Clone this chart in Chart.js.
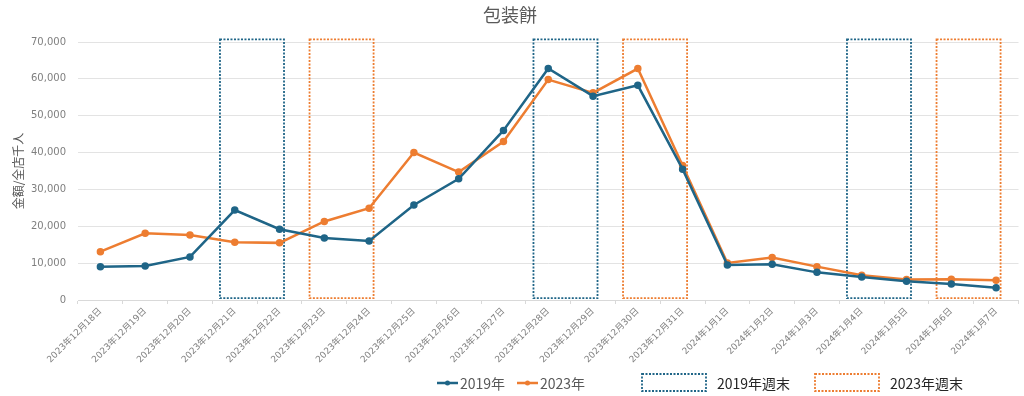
<!DOCTYPE html>
<html>
<head>
<meta charset="utf-8">
<script src="https://cdn.jsdelivr.net/npm/chart.js@4.4.1/dist/chart.umd.min.js"></script>
<style>
  html, body { margin: 0; padding: 0; background: #fff; }
  #wrap { width: 1024px; height: 396px; position: relative; }
</style>
</head>
<body>
<div id="wrap"><canvas id="chart"></canvas></div>
<script>
const labels = [
  '2023年12月18日', '2023年12月19日', '2023年12月20日', '2023年12月21日', '2023年12月22日',
  '2023年12月23日', '2023年12月24日', '2023年12月25日', '2023年12月26日', '2023年12月27日',
  '2023年12月28日', '2023年12月29日', '2023年12月30日', '2023年12月31日', '2024年1月1日',
  '2024年1月2日', '2024年1月3日', '2024年1月4日', '2024年1月5日', '2024年1月6日', '2024年1月7日'
];
const values2019 = [
  9000, 9250, 11700, 24400, 19200, 16800, 16000, 25800, 32900, 46000,
  62800, 55300, 58250, 35500, 9500, 9700, 7500, 6250, 5100, 4350, 3350
];
const values2023 = [
  13100, 18100, 17650, 15700, 15500, 21300, 24900, 40000, 34700, 43000,
  59800, 56200, 62800, 36500, 10050, 11500, 9050, 6700, 5530, 5600, 5350
];
// 週末の範囲（開始日ラベル、2日間）
const weekends2019 = ['2023年12月21日', '2023年12月28日', '2024年1月4日'];
const weekends2023 = ['2023年12月23日', '2023年12月30日', '2024年1月6日'];
const boxTop = 70700;
const boxBottom = 500;

const blue = '#1f6587';
const orange = '#ed7d31';
const grey = '#7f7f7f';
const font = "'DejaVu Sans', 'Noto Sans CJK JP', sans-serif";
const cjk = "'Noto Sans CJK JP', sans-serif";

const weekendPlugin = {
  id: 'weekendBoxes',
  beforeDatasetsDraw(chart) {
    const { ctx, scales: { x, y } } = chart;
    const step = x.getPixelForValue(1) - x.getPixelForValue(0);
    const drawBoxes = (starts, color) => {
      ctx.save();
      ctx.strokeStyle = color;
      ctx.lineWidth = 1.8;
      ctx.setLineDash([2, 1.5]);
      starts.forEach((d) => {
        const i = labels.indexOf(d);
        const left = x.getPixelForValue(i) - step * 0.33;
        const right = x.getPixelForValue(i + 1) + step * 0.1;
        const top = y.getPixelForValue(boxTop);
        const bottom = y.getPixelForValue(boxBottom);
        ctx.strokeRect(left, top, right - left, bottom - top);
      });
      ctx.restore();
    };
    drawBoxes(weekends2019, blue);
    drawBoxes(weekends2023, orange);
  },
  afterDraw(chart) {
    const { ctx } = chart;
    ctx.save();
    // タイトル
    ctx.fillStyle = '#595959';
    ctx.font = '18px ' + cjk;
    ctx.textAlign = 'center';
    ctx.textBaseline = 'middle';
    ctx.fillText('包装餅', 510, 15);

    // 凡例
    const ly = 383;
    ctx.font = '14px ' + cjk;
    ctx.textAlign = 'left';
    const lineItem = (x0, color, text) => {
      ctx.strokeStyle = color;
      ctx.lineWidth = 2.5;
      ctx.setLineDash([]);
      ctx.beginPath();
      ctx.moveTo(x0, ly);
      ctx.lineTo(x0 + 21, ly);
      ctx.stroke();
      ctx.fillStyle = color;
      ctx.beginPath();
      ctx.arc(x0 + 10.5, ly, 2.5, 0, Math.PI * 2);
      ctx.fill();
      ctx.fillStyle = '#595959';
      ctx.fillText(text, x0 + 23, ly + 1);
    };
    lineItem(437, blue, '2019年');
    lineItem(517, orange, '2023年');

    const boxItem = (x0, color, text) => {
      ctx.strokeStyle = color;
      ctx.lineWidth = 1.8;
      ctx.setLineDash([2, 1.5]);
      ctx.strokeRect(x0, ly - 9, 64, 17);
      ctx.fillStyle = '#262626';
      ctx.fillText(text, x0 + 75, ly + 1);
    };
    boxItem(642, blue, '2019年週末');
    boxItem(815, orange, '2023年週末');
    ctx.restore();
  }
};

new Chart(document.getElementById('chart'), {
  type: 'line',
  data: {
    labels: labels,
    datasets: [
      {
        label: '2019年',
        data: values2019,
        borderColor: blue,
        backgroundColor: blue,
        borderWidth: 2.5,
        pointRadius: 2.5,
        pointHoverRadius: 3,
        tension: 0
      },
      {
        label: '2023年',
        data: values2023,
        borderColor: orange,
        backgroundColor: orange,
        borderWidth: 2.5,
        pointRadius: 2.5,
        pointHoverRadius: 3,
        tension: 0
      }
    ]
  },
  options: {
    responsive: true,
    maintainAspectRatio: false,
    animation: false,
    layout: { padding: { top: 42, left: 0, right: 3, bottom: 16 } },
    plugins: {
      legend: { display: false },
      title: { display: false },
      tooltip: { enabled: false }
    },
    scales: {
      x: {
        offset: true,
        afterFit: (scale) => { scale.height = 80; },
        grid: {
          offset: true,
          drawOnChartArea: false,
          drawTicks: true,
          tickLength: 4,
          color: '#d9d9d9'
        },
        border: { color: '#d9d9d9' },
        ticks: {
          autoSkip: false,
          minRotation: 45,
          maxRotation: 45,
          padding: 2,
          color: grey,
          font: { family: font, size: 9 }
        }
      },
      y: {
        min: 0,
        max: 70000,
        afterFit: (scale) => { scale.width = 78; },
        grid: { color: '#e3e3e3', drawTicks: false },
        border: { display: false },
        title: {
          display: true,
          text: '金額/全店千人',
          color: '#595959',
          font: { family: cjk, size: 12 },
          padding: { top: 11, bottom: 0 }
        },
        ticks: {
          stepSize: 10000,
          padding: 12,
          color: grey,
          font: { family: font, size: 10 },
          callback: (v) => v.toLocaleString('en-US')
        }
      }
    }
  },
  plugins: [weekendPlugin]
});
</script>
</body>
</html>
